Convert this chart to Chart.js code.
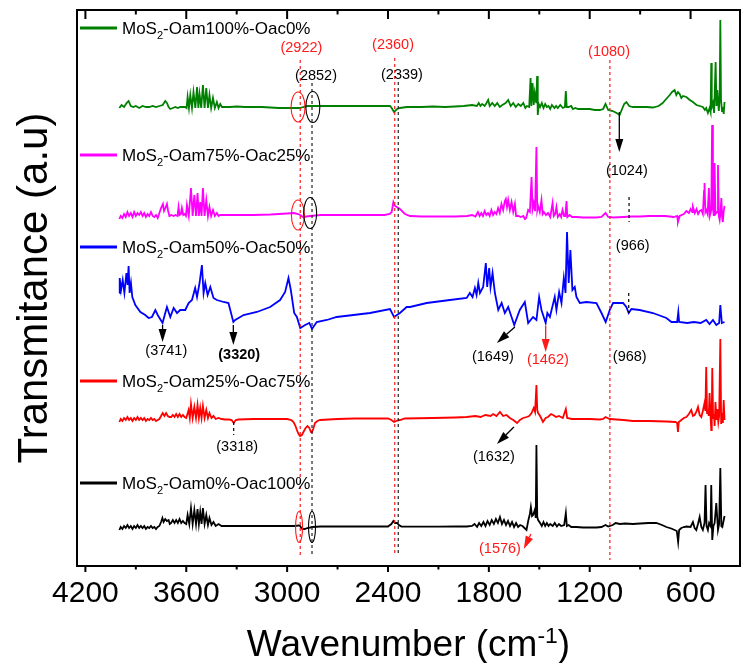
<!DOCTYPE html>
<html lang="en">
<head>
<meta charset="UTF-8">
<title>FTIR spectra of MoS2 samples</title>
<script src="https://cdn.jsdelivr.net/npm/chart.js"></script>
<style>
  body { margin: 0; background: #fff; }
  canvas { display: block; }
</style>
</head>
<body>
<canvas id="ftir" width="742" height="663"></canvas>
<script>
// wavenumber ticks (cm-1)
const tickLabels = [4200, 3600, 3000, 2400, 1800, 1200, 600];

const sampleNames = [
  'MoS2-Oam100%-Oac0%',
  'MoS2-Oam75%-Oac25%',
  'MoS2-Oam50%-Oac50%',
  'MoS2-Oam25%-Oac75%',
  'MoS2-Oam0%-Oac100%'
];

// [wavenumber, transmittance (a.u., offset stacked)]
const oam100 = [
  [3998,45.8],[3985,46.1],[3970,45.9],[3955,46.3],[3943,46.5],[3930,46.0],[3915,45.9],[3900,46.0],[3880,45.8],[3860,46.0],
  [3840,45.9],[3820,45.9],[3800,46.0],[3780,45.9],[3760,46.0],[3740,46.1],[3725,46.5],[3715,46.3],[3705,45.9],[3695,45.7],
  [3680,45.8],[3665,45.9],[3650,45.8],[3636,45.9],[3620,45.9],[3606,45.9],
  [3598,45.8],[3592,46.9],[3584,45.8],[3576,47.1],[3566,45.8],[3557,47.4],[3546,45.8],[3536,47.9],[3528,45.8],[3521,47.2],
  [3511,45.8],[3501,48.1],[3491,45.8],[3481,47.8],[3471,45.8],[3462,47.1],[3452,45.8],[3441,46.8],[3430,45.8],[3418,46.4],
  [3408,45.8],[3398,46.2],[3388,45.9],
  [3370,45.9],[3340,45.9],[3300,45.95],[3250,45.9],[3200,45.9],[3150,45.9],[3100,45.85],[3050,45.8],[3000,45.8],[2960,45.8],
  [2923,45.8],[2905,45.9],[2880,46.0],[2863,46.0],[2800,46.0],[2700,46.0],[2600,46.0],[2500,46.0],[2420,46.0],[2388,46.0],
  [2378,45.8],[2364,45.4],[2346,45.7],[2329,45.8],[2289,45.9],[2269,45.9],[2200,45.9],[2133,45.95],[2060,45.9],[2002,45.95],
  [1950,46.0],[1900,46.1],[1871,46.0],[1860,46.3],[1850,46.0],[1840,46.2],[1825,46.0],[1814,46.3],[1804,46.6],[1795,46.0],
  [1780,46.3],[1765,46.0],[1750,46.3],[1735,45.9],[1720,46.1],[1700,46.3],[1685,46.6],[1670,46.0],[1655,46.3],[1640,45.9],
  [1625,46.2],[1610,46.0],[1595,46.3],[1583,45.8],[1574,46.0],[1560,45.9],[1552,48.8],[1547,46.0],[1540,48.3],[1533,46.1],
  [1527,47.3],[1518,46.3],[1513,49.0],[1509,45.1],[1503,46.2],[1495,45.9],[1485,46.3],[1475,45.8],[1465,46.2],[1455,45.9],
  [1445,46.0],[1435,45.7],[1425,46.1],[1410,45.8],[1400,46.0],[1390,45.8],[1375,46.1],[1360,45.8],[1348,45.9],[1342,47.5],
  [1337,45.9],[1325,45.9],[1310,46.0],[1300,45.7],[1285,45.8],[1270,45.7],[1259,45.7],[1230,45.7],[1200,45.7],[1170,45.6],
  [1140,45.6],[1120,45.7],[1106,46.2],[1090,45.6],[1063,45.5],[1040,45.3],[1022,45.1],[1010,45.6],[995,46.2],[982,46.4],
  [965,46.0],[944,45.9],[900,45.9],[860,45.9],[825,45.85],[790,46.0],[766,46.3],[745,46.7],[724,47.1],[710,47.4],
  [695,47.6],[685,47.1],[675,47.4],[665,47.2],[655,46.8],[645,47.0],[625,46.9],[605,46.6],[586,46.4],[565,46.1],
  [546,46.0],[527,45.9],[515,45.6],[507,45.8],[497,45.3],[487,45.8],[481,45.4],[477,50.3],[474,45.9],[467,46.3],
  [460,45.3],[451,50.4],[446,46.0],[441,47.6],[432,45.5],[427,47.0],[423,54.6],[419,46.6],[413,45.5],[408,45.9],
  [403,45.2],[398,46.4]
];

const oam75 = [
  [3998,34.7],[3990,35.0],[3980,34.8],[3970,35.2],[3960,34.9],[3950,35.4],[3940,35.0],[3930,35.3],[3920,34.9],[3910,35.4],
  [3900,35.0],[3890,35.3],[3880,35.1],[3870,35.4],[3860,35.0],[3850,35.3],[3840,34.9],[3830,35.2],[3820,35.0],[3810,35.4],
  [3800,35.0],[3790,34.9],[3780,35.1],[3770,34.8],[3760,35.3],[3750,35.8],[3739,36.2],[3732,35.5],[3724,35.8],[3715,36.2],
  [3708,35.5],[3700,35.0],[3690,35.1],[3675,35.0],[3665,35.1],[3652,35.0],[3646,35.9],[3640,35.1],[3632,35.2],[3626,35.8],
  [3618,35.1],[3610,35.2],[3602,35.0],[3596,36.1],[3585,35.0],[3572,37.8],[3562,35.0],[3552,37.1],[3542,35.0],[3533,37.3],
  [3525,35.0],[3517,36.4],[3509,35.0],[3501,37.8],[3491,35.0],[3481,36.6],[3471,35.0],[3462,35.9],[3452,35.0],[3441,35.6],
  [3430,35.0],[3418,35.3],[3408,35.0],[3398,35.1],[3350,35.1],[3300,35.1],[3200,35.1],[3100,35.15],[3000,35.25],[2960,35.3],
  [2935,35.2],[2923,35.1],[2905,34.9],[2885,34.95],[2863,35.0],[2800,35.1],[2700,35.1],[2600,35.1],[2500,35.1],[2420,35.1],
  [2390,35.2],[2378,35.4],[2368,36.4],[2358,36.0],[2348,35.9],[2329,35.7],[2299,35.2],[2269,35.0],[2200,34.95],[2100,34.95],
  [2000,34.95],[1930,35.0],[1900,35.1],[1880,34.95],[1865,35.4],[1855,35.0],[1845,35.3],[1835,35.0],[1825,35.5],[1815,35.1],
  [1805,35.3],[1795,35.0],[1785,35.6],[1775,35.1],[1765,35.4],[1755,35.2],[1745,35.8],[1735,35.3],[1725,36.2],[1715,35.6],
  [1705,36.5],[1699,36.7],[1692,35.9],[1685,36.6],[1675,35.6],[1665,36.4],[1655,35.4],[1645,36.2],[1638,35.0],[1625,35.0],
  [1610,34.9],[1595,35.0],[1585,34.7],[1578,34.8],[1566,35.6],[1556,35.4],[1546,38.9],[1540,35.7],[1533,36.3],[1525,35.5],
  [1517,41.9],[1512,35.6],[1507,36.0],[1497,35.4],[1487,36.6],[1480,35.2],[1473,35.4],[1460,35.1],[1448,35.3],[1435,34.9],
  [1421,36.3],[1414,35.0],[1405,35.2],[1398,35.9],[1390,34.9],[1378,35.2],[1370,34.9],[1362,35.6],[1352,35.0],[1345,35.0],
  [1338,36.5],[1333,34.9],[1320,35.1],[1305,34.9],[1280,34.9],[1240,34.85],[1200,34.85],[1160,34.85],[1130,34.9],[1106,35.3],
  [1090,34.9],[1060,34.85],[1000,34.9],[950,34.95],[900,34.95],[850,35.0],[800,35.0],[750,35.0],[700,34.9],[680,35.0],
  [675,34.4],[665,35.0],[640,35.2],[625,35.5],[610,35.3],[600,35.7],[590,35.4],[586,35.9],[575,35.3],[565,35.7],
  [555,35.2],[546,35.5],[536,35.6],[527,35.2],[520,37.5],[517,38.3],[512,35.4],[507,35.6],[499,35.2],[491,37.8],
  [486,35.0],[481,35.3],[477,35.6],[472,44.1],[467,35.8],[462,35.0],[457,40.3],[452,35.2],[447,35.3],[442,35.4],
  [437,40.1],[432,35.0],[427,34.6],[422,35.3],[417,36.8],[412,34.8],[408,34.4],[403,35.5],[398,36.0]
];

const oam50 = [
  [3998,27.3],[3996,28.8],[3988,27.6],[3978,28.6],[3968,27.3],[3956,29.3],[3949,28.1],[3943,30.0],[3937,27.3],[3929,28.3],
  [3921,26.9],[3903,26.1],[3873,25.4],[3844,25.1],[3824,24.8],[3804,24.9],[3784,25.6],[3770,25.1],[3741,24.3],[3725,25.3],
  [3715,25.9],[3695,24.9],[3675,25.8],[3655,25.3],[3636,25.6],[3606,25.6],[3586,26.3],[3566,26.6],[3547,27.8],[3536,26.9],
  [3521,28.3],[3507,30.1],[3497,27.3],[3487,28.3],[3473,27.1],[3457,27.9],[3438,26.8],[3418,26.6],[3378,26.4],[3349,26.3],
  [3320,24.4],[3309,24.6],[3259,25.1],[3180,25.4],[3101,25.9],[3042,26.6],[3012,27.4],[2992,28.8],[2978,27.6],[2958,25.3],
  [2942,24.9],[2922,23.8],[2893,24.1],[2868,24.3],[2852,23.7],[2824,24.4],[2764,24.6],[2705,24.9],[2507,25.3],[2388,25.7],
  [2364,24.9],[2329,25.3],[2289,25.9],[2269,25.9],[2170,26.3],[2032,26.6],[1932,26.8],[1913,27.3],[1897,26.9],[1883,27.8],
  [1873,27.1],[1863,28.3],[1853,27.3],[1834,27.9],[1818,30.3],[1810,27.9],[1798,29.8],[1790,27.9],[1778,29.3],[1764,27.3],
  [1744,25.6],[1724,26.3],[1705,25.3],[1685,25.9],[1665,24.9],[1649,24.1],[1616,25.6],[1586,26.4],[1566,24.3],[1537,24.9],
  [1517,24.6],[1501,26.9],[1487,25.6],[1462,24.3],[1452,25.3],[1437,24.9],[1408,26.9],[1398,25.6],[1382,27.4],[1368,26.3],
  [1354,28.8],[1344,27.3],[1335,33.4],[1325,28.3],[1315,31.6],[1303,27.6],[1289,27.9],[1279,26.9],[1259,26.3],[1220,26.4],
  [1160,26.3],[1130,25.3],[1105,24.4],[1081,25.6],[1061,26.3],[1002,26.3],[982,25.9],[968,25.3],[952,25.7],[903,25.6],
  [824,25.3],[744,24.8],[714,24.4],[680,24.4],[673,25.4],[668,24.4],[620,24.3],[580,24.4],[540,24.3],[507,24.6],
  [487,24.2],[467,24.6],[447,24.1],[430,24.3],[423,26.1],[414,24.3],[398,24.4]
];

const oam25 = [
  [3998,14.4],[3990,14.7],[3980,14.5],[3970,14.8],[3960,14.6],[3950,14.9],[3940,14.6],[3930,14.8],[3920,14.5],[3910,14.8],
  [3900,14.6],[3890,14.9],[3880,14.6],[3870,14.8],[3860,14.6],[3850,14.8],[3840,14.5],[3830,14.7],[3820,14.6],[3810,14.8],
  [3800,14.6],[3790,14.7],[3780,14.5],[3770,14.6],[3760,14.7],[3750,15.0],[3740,15.3],[3730,15.0],[3720,15.3],[3710,15.0],
  [3700,14.9],[3690,14.9],[3680,15.1],[3670,14.9],[3660,15.2],[3650,14.9],[3640,15.2],[3630,14.9],[3620,15.1],[3610,14.9],
  [3600,14.8],[3586,15.6],[3579,14.8],[3572,16.2],[3562,14.8],[3552,15.9],[3542,14.8],[3533,16.1],[3525,14.8],[3517,15.8],
  [3509,14.8],[3501,16.0],[3491,14.8],[3481,15.6],[3471,14.8],[3462,15.3],[3450,14.8],[3438,15.0],[3425,14.7],[3408,14.8],
  [3390,14.7],[3370,14.65],[3345,14.65],[3330,14.6],[3318,14.3],[3305,14.6],[3290,14.65],[3200,14.7],[3100,14.7],[3000,14.7],
  [2975,14.6],[2962,14.4],[2950,14.0],[2942,13.6],[2932,13.2],[2923,13.0],[2912,13.1],[2903,13.4],[2890,13.8],[2879,14.0],
  [2868,13.8],[2858,13.4],[2852,13.4],[2845,13.7],[2834,14.3],[2820,14.5],[2804,14.6],[2700,14.7],[2600,14.75],[2500,14.75],
  [2400,14.75],[2380,14.6],[2364,14.4],[2345,14.55],[2329,14.6],[2300,14.75],[2133,14.8],[2000,14.85],[1932,14.9],[1880,15.0],
  [1850,14.9],[1820,15.1],[1790,15.0],[1774,15.2],[1755,15.0],[1734,15.4],[1715,15.0],[1695,15.1],[1675,14.8],[1655,14.6],
  [1632,14.3],[1615,14.6],[1596,14.8],[1575,14.9],[1560,15.0],[1546,15.3],[1533,15.8],[1525,15.4],[1517,18.1],[1512,15.6],
  [1507,15.3],[1495,15.0],[1478,14.4],[1462,14.8],[1448,14.9],[1430,15.2],[1418,15.1],[1400,14.9],[1383,15.0],[1360,14.8],
  [1342,15.7],[1334,14.8],[1306,14.7],[1250,14.7],[1200,14.7],[1140,14.65],[1120,14.7],[1106,14.9],[1081,14.7],[1000,14.6],
  [943,14.5],[850,14.5],[744,14.45],[690,14.4],[680,14.3],[675,13.4],[670,14.4],[655,14.6],[640,14.8],[625,14.9],
  [610,15.2],[596,15.6],[586,15.0],[576,15.1],[566,15.4],[556,15.9],[546,15.1],[536,14.9],[527,15.5],[517,16.3],
  [512,15.5],[507,19.9],[502,15.3],[497,15.6],[492,15.0],[487,17.3],[482,15.2],[477,13.6],[474,15.0],[471,19.8],
  [466,14.8],[461,15.2],[457,14.0],[452,16.4],[446,14.6],[441,15.7],[435,14.4],[430,15.0],[423,22.7],[418,14.2],
  [413,15.3],[408,14.3],[403,16.6],[398,14.6]
];

const oam0 = [
  [3998,3.6],[3990,3.9],[3980,3.7],[3970,4.0],[3960,3.8],[3950,4.1],[3940,3.8],[3930,4.0],[3920,3.7],[3910,4.0],
  [3900,3.8],[3890,4.1],[3880,3.8],[3870,4.0],[3860,3.8],[3850,4.0],[3840,3.7],[3830,3.9],[3820,3.8],[3810,4.0],
  [3800,3.8],[3790,3.9],[3780,3.7],[3770,3.9],[3760,4.0],[3750,4.4],[3742,4.8],[3735,4.4],[3725,4.7],[3715,4.5],
  [3705,4.6],[3698,4.2],[3690,4.3],[3680,4.6],[3670,4.3],[3660,4.6],[3650,4.3],[3640,4.7],[3630,4.3],[3620,4.5],
  [3610,4.3],[3600,4.2],[3592,5.1],[3582,4.2],[3572,5.8],[3562,4.2],[3552,5.6],[3542,4.2],[3533,5.7],[3525,4.2],
  [3517,5.4],[3509,4.2],[3501,5.8],[3491,4.2],[3481,5.1],[3471,4.1],[3462,4.8],[3450,4.1],[3438,4.4],[3425,4.0],
  [3408,4.2],[3390,4.0],[3350,4.0],[3250,4.0],[3150,4.0],[3050,4.0],[2960,4.0],[2930,4.05],[2923,4.0],[2910,3.7],
  [2895,3.7],[2880,3.8],[2863,3.85],[2850,3.9],[2800,3.95],[2700,3.95],[2600,3.95],[2500,3.95],[2400,3.95],[2380,4.2],
  [2368,4.5],[2358,4.3],[2346,4.3],[2335,4.1],[2320,3.95],[2200,3.93],[2100,3.93],[2000,3.95],[1932,3.95],[1900,4.0],
  [1885,4.2],[1870,3.9],[1858,4.3],[1845,4.0],[1832,4.4],[1820,4.0],[1808,4.5],[1795,4.1],[1783,4.6],[1770,4.2],
  [1758,4.7],[1746,4.3],[1734,4.9],[1722,4.2],[1710,4.6],[1698,4.1],[1686,4.5],[1674,4.0],[1662,4.4],[1650,3.9],
  [1638,4.3],[1626,3.9],[1614,4.1],[1600,4.0],[1588,3.8],[1576,3.6],[1566,4.5],[1556,5.2],[1550,5.9],[1543,5.0],
  [1537,5.1],[1527,5.6],[1521,4.8],[1517,12.1],[1512,4.9],[1507,4.6],[1495,4.3],[1485,4.0],[1475,4.4],[1465,4.0],
  [1455,4.3],[1445,4.0],[1435,4.2],[1420,4.0],[1408,4.3],[1395,3.95],[1383,4.2],[1370,4.0],[1352,4.1],[1342,5.3],
  [1336,4.0],[1325,4.1],[1310,3.9],[1280,3.9],[1240,3.85],[1200,3.85],[1160,3.85],[1130,3.9],[1106,4.1],[1090,3.95],
  [1063,4.1],[1046,4.3],[1020,4.2],[990,4.25],[943,4.2],[900,4.25],[850,4.3],[804,4.3],[770,4.1],[744,3.9],
  [715,3.75],[695,3.6],[682,3.5],[674,2.4],[668,3.6],[655,3.8],[640,3.9],[625,3.95],[600,3.9],[586,4.4],
  [576,3.8],[566,3.6],[556,4.2],[546,4.9],[536,3.9],[527,3.6],[517,4.3],[511,8.1],[505,4.0],[497,3.6],
  [490,4.3],[481,4.0],[477,8.1],[471,2.6],[464,4.0],[457,4.3],[447,6.3],[437,3.6],[430,4.2],[423,9.8],
  [417,4.0],[411,3.9],[404,4.5],[398,5.0]
];

const FONT = '"Liberation Sans", Arial, Helvetica, sans-serif';
const RED = '#ff1a1a';

// text runs with optional sub/superscript: [text, sizeScale, baselineShift]
function richWidth(ctx, runs, size, weight) {
  let w = 0;
  runs.forEach(([t, k]) => {
    ctx.font = `${weight || ''} ${size * k}px ${FONT}`;
    w += ctx.measureText(t).width;
  });
  return w;
}
function drawRich(ctx, runs, x, y, size, align, weight) {
  const total = richWidth(ctx, runs, size, weight);
  let cx = align === 'center' ? x - total / 2 : x;
  ctx.textAlign = 'left';
  ctx.textBaseline = 'alphabetic';
  runs.forEach(([t, k, dy]) => {
    ctx.font = `${weight || ''} ${size * k}px ${FONT}`;
    ctx.fillText(t, cx, y + dy * size);
    cx += ctx.measureText(t).width;
  });
}
function nameRuns(name) {
  return [['MoS', 1, 0], ['2', 0.65, 0.28], [name.slice(4), 1, 0]];
}

const overlay = {
  id: 'overlay',
  afterDraw(chart) {
    const { ctx, chartArea: a, scales: { x, y } } = chart;
    const px = v => x.getPixelForValue(v);
    const py = v => y.getPixelForValue(v);
    ctx.save();

    // frame
    ctx.strokeStyle = '#000';
    ctx.lineWidth = 2;
    ctx.strokeRect(a.left, a.top, a.right - a.left, a.bottom - a.top);

    // ticks: outward at the bottom, inward at the top, minor halfway
    const marks = [];
    tickLabels.forEach(v => { marks.push([v, true]); marks.push([v - 300, false]); });
    marks.forEach(([v, major]) => {
      const X = px(v);
      if (X <= a.left + 1 || X >= a.right - 1) return;
      ctx.beginPath();
      ctx.moveTo(X, a.bottom); ctx.lineTo(X, a.bottom + (major ? 6 : 3.5));
      ctx.moveTo(X, a.top); ctx.lineTo(X, a.top + (major ? 9 : 4.5));
      ctx.stroke();
    });

    // dashed markers
    const dashed = (w, v1, v2, color) => {
      ctx.save();
      ctx.strokeStyle = color; ctx.lineWidth = 1.2; ctx.setLineDash([3, 3]);
      ctx.beginPath(); ctx.moveTo(px(w), py(v1)); ctx.lineTo(px(w), py(v2)); ctx.stroke();
      ctx.restore();
    };
    dashed(2922, 50.6, 1.0, RED);
    dashed(2852, 48.3, 1.0, '#222');
    dashed(2360, 50.8, 1.0, RED);
    dashed(2339, 48.4, 1.0, '#222');
    dashed(1080, 50.6, 0.6, RED);
    dashed(966, 36.9, 34.4, '#000');
    dashed(968, 27.3, 25.3, '#000');
    dashed(3318, 14.4, 13.1, '#000');

    // ellipses around the C-H bands
    const ring = (w, v, rx, ry, color) => {
      ctx.save();
      ctx.strokeStyle = color; ctx.lineWidth = 1.1;
      ctx.beginPath(); ctx.ellipse(px(w), py(v), rx, ry, 0, 0, Math.PI * 2); ctx.stroke();
      ctx.restore();
    };
    ring(2935, 45.9, 7, 15, RED);
    ring(2847, 45.9, 7, 15.5, '#000');
    ring(2936, 35.1, 6.5, 15, RED);
    ring(2863, 35.3, 6.5, 15.5, '#000');
    ring(2929, 3.9, 3.5, 15.5, RED);
    ring(2852, 3.9, 3.5, 15.5, '#000');

    // arrows
    const arrow = (w1, v1, w2, v2, color) => {
      const x1 = px(w1), y1 = py(v1), x2 = px(w2), y2 = py(v2);
      const ang = Math.atan2(y2 - y1, x2 - x1), L = 13, H = 4;
      const bx = x2 - L * Math.cos(ang), by = y2 - L * Math.sin(ang);
      ctx.save();
      ctx.strokeStyle = color; ctx.fillStyle = color; ctx.lineWidth = 1.3;
      ctx.beginPath(); ctx.moveTo(x1, y1); ctx.lineTo(bx, by); ctx.stroke();
      ctx.beginPath();
      ctx.moveTo(x2, y2);
      ctx.lineTo(bx + H * Math.sin(ang), by - H * Math.cos(ang));
      ctx.lineTo(bx - H * Math.sin(ang), by + H * Math.cos(ang));
      ctx.closePath(); ctx.fill();
      ctx.restore();
    };
    arrow(1024, 45.4, 1024, 41.4, '#000');
    arrow(3741, 24.1, 3741, 22.4, '#000');
    arrow(3320, 24.1, 3320, 22.1, '#000');
    arrow(1645, 23.9, 1752, 22.3, '#000');
    arrow(1462, 24.0, 1462, 21.4, RED);
    arrow(1651, 13.9, 1752, 12.2, '#000');
    arrow(1550, 3.2, 1592, 1.7, RED);

    // peak labels
    const note = (text, w, v, color, bold) => {
      ctx.fillStyle = color;
      ctx.font = `${bold ? 'bold ' : ''}14.5px ${FONT}`;
      ctx.textAlign = 'center'; ctx.textBaseline = 'middle';
      ctx.fillText(text, px(w), py(v));
    };
    note('(2922)', 2915, 51.8, RED);
    note('(2852)', 2828, 49.0, '#000');
    note('(2360)', 2370, 52.1, RED);
    note('(2339)', 2317, 49.1, '#000');
    note('(1080)', 1085, 51.4, RED);
    note('(1024)', 979, 39.5, '#000');
    note('(966)', 944, 32.0, '#000');
    note('(3741)', 3719, 21.5, '#000');
    note('(3320)', 3285, 21.1, '#000', true);
    note('(1649)', 1776, 20.9, '#000');
    note('(1462)', 1449, 20.6, RED);
    note('(968)', 962, 20.9, '#000');
    note('(3318)', 3297, 11.9, '#000');
    note('(1632)', 1770, 10.9, '#000');
    note('(1576)', 1734, 1.7, RED);

    // legend entries next to each trace
    const rows = [53.8, 41.1, 31.9, 18.5, 8.3];
    chart.data.datasets.forEach((ds, i) => {
      const Y = py(rows[i]);
      ctx.strokeStyle = ds.borderColor; ctx.lineWidth = 3;
      ctx.beginPath(); ctx.moveTo(a.left + 3, Y); ctx.lineTo(a.left + 40, Y); ctx.stroke();
      ctx.fillStyle = '#000';
      drawRich(ctx, nameRuns(ds.label), a.left + 45, Y + 6, 17, 'left');
    });

    // axis titles
    ctx.fillStyle = '#000';
    drawRich(ctx, [['Wavenumber (cm', 1, 0], ['-1', 0.62, -0.36], [')', 1, 0]],
      (a.left + a.right) / 2, 656, 37, 'center');
    ctx.save();
    ctx.translate(47, (a.top + a.bottom) / 2);
    ctx.rotate(-Math.PI / 2);
    drawRich(ctx, [['Transmitance (a.u)', 1, 0]], 0, 0, 42, 'center');
    ctx.restore();

    ctx.restore();
  }
};

const series = [oam100, oam75, oam50, oam25, oam0];
const colors = ['#008000', '#ff00ff', '#0000ff', '#ff0000', '#000000'];

new Chart(document.getElementById('ftir'), {
  type: 'line',
  data: {
    datasets: series.map((s, i) => ({
      label: sampleNames[i],
      data: s.map(([w, t]) => ({ x: w, y: t })),
      borderColor: colors[i],
      borderWidth: 1.8,
      pointRadius: 0,
      tension: 0,
      fill: false
    }))
  },
  options: {
    responsive: false,
    animation: false,
    devicePixelRatio: 1,
    layout: { padding: { left: 77, right: 2, top: 10, bottom: 0 } },
    plugins: { legend: { display: false }, tooltip: { enabled: false } },
    scales: {
      x: {
        type: 'linear',
        reverse: true,
        min: 306,
        max: 4250,
        afterBuildTicks: s => { s.ticks = tickLabels.map(v => ({ value: v })); },
        afterFit: s => { s.height = 97; },
        grid: { display: false, drawTicks: false },
        border: { display: false },
        ticks: {
          color: '#000',
          font: { family: FONT, size: 30 },
          padding: 10,
          maxRotation: 0,
          autoSkip: false,
          callback: v => String(v)
        }
      },
      y: { display: false, min: 0, max: 55.6 }
    }
  },
  plugins: [overlay]
});
</script>
</body>
</html>
